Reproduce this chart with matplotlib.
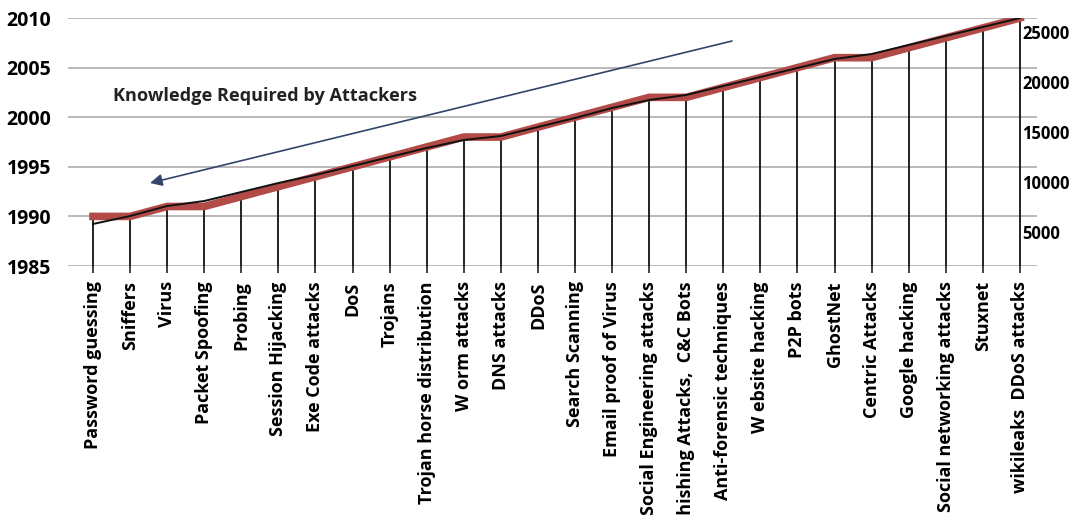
import numpy as np
import matplotlib
matplotlib.use('Agg')
import matplotlib.pyplot as plt

plt.rcParams['font.family'] = ['Open Sans', 'DejaVu Sans']
plt.rcParams['font.weight'] = 'bold'

attacks = ['Password guessing', 'Sniffers', 'Virus', 'Packet Spoofing', 'Probing',
           'Session Hijacking', 'Exe Code attacks', 'DoS', 'Trojans',
           'Trojan horse distribution', 'W orm attacks', 'DNS attacks', 'DDoS',
           'Search Scanning', 'Email proof of Virus', 'Social Engineering attacks',
           'Phishing Attacks,  C&C Bots', 'Anti-forensic techniques', 'W ebsite hacking',
           'P2P bots', 'GhostNet', 'Centric Attacks', 'Google hacking',
           'Social networking attacks', 'Stuxnet', 'wikileaks  DDoS attacks']

years = [1990, 1990, 1991, 1991, 1992, 1993, 1994, 1995, 1996, 1997, 1998, 1998, 1999,
         2000, 2001, 2002, 2002, 2003, 2004, 2005, 2006, 2006, 2007, 2008, 2009, 2010]

# secondary series (right axis)
incidents = [5800, 6600, 7600, 8100, 9000, 9900, 10700, 11600, 12500, 13400, 14200,
             14600, 15500, 16400, 17400, 18200, 18700, 19600, 20500, 21400, 22300,
             22800, 23700, 24600, 25500, 26400]

year_ticks = [1985, 1990, 1995, 2000, 2005, 2010]
right_ticks = [5000, 10000, 15000, 20000, 25000]

W, H = 1082, 515
fig = plt.figure(figsize=(W / 100, H / 100), dpi=100)
ax = fig.add_axes([68 / W, 1 - 266 / H, (1037 - 68) / W, (266 - 18) / H])
x = np.arange(len(attacks))

ax.set_xlim(-0.674, 25.46)
ax.set_ylim(1985, 2010)
ax.set_yticks(year_ticks)
ax.yaxis.grid(True, color='#a6a6a6', lw=1.1)
ax.set_axisbelow(True)
for s in ax.spines.values():
    s.set_visible(False)
ax.tick_params(axis='y', length=0, pad=12, labelsize=14)
ax.tick_params(axis='x', length=5, width=1.2, color='#222222', direction='out', pad=6)
ax.set_xticks(x)
ax.set_xticklabels(attacks, rotation=90, fontsize=13, va='top', ha='center')

# drop lines
ax.vlines(x, 1985, years, color='#111111', lw=1.3, zorder=2)

ax.plot(x, years, color='#b24a47', lw=5.5, solid_joinstyle='round', zorder=3)

ax2 = ax.twinx()
ax2.set_ylim(1600, 26400)
ax2.set_yticks(right_ticks)
for s in ax2.spines.values():
    s.set_visible(False)
ax2.tick_params(axis='y', length=0, pad=-10.8, labelsize=12)
for lab in ax2.get_yticklabels():
    lab.set_ha('left')
ax2.plot(x, incidents, color='#111111', lw=1.4, zorder=4)

# knowledge arrow
ax.annotate('', xy=(150 / W, 1 - 183 / H), xytext=(732 / W, 1 - 41 / H),
            xycoords='figure fraction', textcoords='figure fraction',
            arrowprops=dict(arrowstyle='-|>', color='#33456a', lw=1.2,
                            mutation_scale=18, shrinkA=0, shrinkB=0))
fig.text(113 / W, 1 - 96 / H, 'Knowledge Required by Attackers', fontsize=13.1,
         fontweight='bold', color='#222222', va='center', ha='left')

fig.savefig('out.png', dpi=100)
